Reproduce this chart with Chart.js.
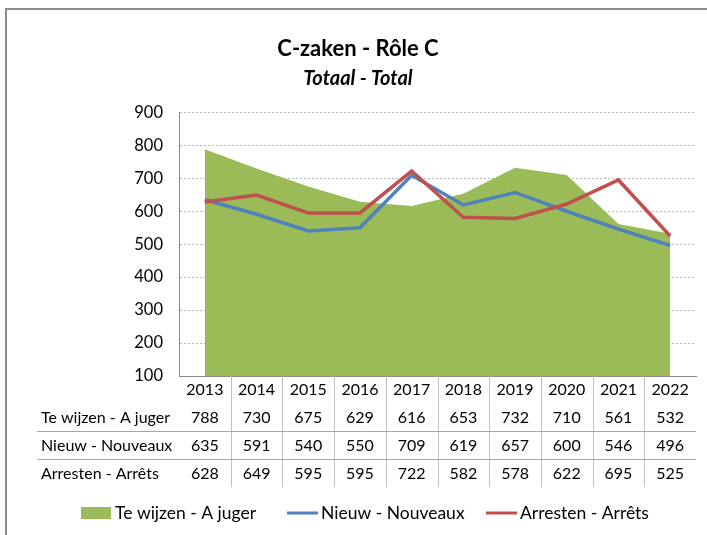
<!DOCTYPE html>
<html>
<head>
<meta charset="utf-8">
<script src="https://cdn.jsdelivr.net/npm/chart.js@4"></script>
<style>
  html, body { margin: 0; padding: 0; background: #fff; overflow: hidden; }
  #frame { position: absolute; left: 5px; top: 8px; width: 760px; height: 600px; border: 2px solid #8c8c8c; }
  #wrap { position: absolute; left: 0; top: 0; width: 707px; height: 535px; }
</style>
</head>
<body>
<div id="frame"></div>
<div id="wrap"><canvas id="czaken" width="707" height="535"></canvas></div>
<script>
// Data
const years = ['2013', '2014', '2015', '2016', '2017', '2018', '2019', '2020', '2021', '2022'];
const teWijzen = [788, 730, 675, 629, 616, 653, 732, 710, 561, 532];
const nieuw = [635, 591, 540, 550, 709, 619, 657, 600, 546, 496];
const arresten = [628, 649, 595, 595, 722, 582, 578, 622, 695, 525];
const yTicks = [100, 200, 300, 400, 500, 600, 700, 800, 900];

const FONT = 'Lato, "Open Sans", sans-serif';

// data table + legend under the plot
const tablePlugin = {
    id: 'dataTable',
    afterDraw(chart) {
        const ctx = chart.ctx;
        const x = chart.scales.x;
        const area = chart.chartArea;
        const ds = chart.data.datasets;
        const colW = (area.right - area.left) / years.length;
        const top = area.bottom;
        const rowY = [390, 418, 446, 474];
        const lineY = [431, 459];
        const bottom = 487;

        ctx.save();
        // vertical separators
        ctx.strokeStyle = '#c0c0c0';
        ctx.lineWidth = 1;
        for (let i = 1; i < years.length; i++) {
            const bx = Math.round(x.getPixelForValue(i) - colW / 2) + 0.5;
            ctx.beginPath();
            ctx.moveTo(bx, top);
            ctx.lineTo(bx, bottom);
            ctx.stroke();
        }
        // horizontal separators
        ctx.strokeStyle = '#a6a6a6';
        lineY.forEach(ly => {
            ctx.beginPath();
            ctx.moveTo(37, ly + 0.5);
            ctx.lineTo(area.right, ly + 0.5);
            ctx.stroke();
        });

        ctx.fillStyle = '#000';
        ctx.textBaseline = 'middle';
        ctx.font = '16px ' + FONT;
        ctx.textAlign = 'center';
        years.forEach((yr, i) => ctx.fillText(yr, x.getPixelForValue(i), rowY[0]));
        ds.forEach((d, r) => {
            ctx.textAlign = 'left';
            ctx.fillText(d.label, 41, rowY[r + 1]);
            ctx.textAlign = 'center';
            d.data.forEach((v, i) => ctx.fillText(String(v), x.getPixelForValue(i), rowY[r + 1]));
        });

        // legend
        const legX = [81, 287, 486];
        const ly = 513;
        ctx.font = '17.5px ' + FONT;
        ctx.textAlign = 'left';
        ds.forEach((d, i) => {
            const lx = legX[i];
            if (d.fill) {
                ctx.fillStyle = d.backgroundColor;
                ctx.fillRect(lx, ly - 6, 30, 12);
            } else {
                ctx.strokeStyle = d.borderColor;
                ctx.lineWidth = 3;
                ctx.beginPath();
                ctx.moveTo(lx, ly);
                ctx.lineTo(lx + 31, ly);
                ctx.stroke();
            }
            ctx.fillStyle = '#000';
            ctx.fillText(d.label, lx + 34, ly);
        });
        ctx.restore();
    }
};

let ctx = document.getElementById('czaken').getContext('2d');
let czakenChart = new Chart(ctx, {
    type: 'line',
    data: {
        labels: years,
        datasets: [{
            label: 'Te wijzen - A juger',
            data: teWijzen,
            fill: 'start',
            backgroundColor: '#9bbb59',
            borderColor: '#9bbb59',
            borderWidth: 0,
            pointRadius: 0,
            tension: 0,
            order: 3
        }, {
            label: 'Nieuw - Nouveaux',
            data: nieuw,
            fill: false,
            borderColor: '#4f81bd',
            borderWidth: 3.5,
            pointRadius: 0,
            tension: 0,
            order: 2
        }, {
            label: 'Arresten - Arrêts',
            data: arresten,
            fill: false,
            borderColor: '#c0504d',
            borderWidth: 3.5,
            pointRadius: 0,
            tension: 0,
            order: 1
        }]
    },
    options: {
        responsive: false,
        animation: false,
        events: [],
        layout: { padding: { left: 20, right: 11, top: 0, bottom: 151 } },
        plugins: {
            legend: { display: false },
            tooltip: { enabled: false },
            title: {
                display: true,
                text: 'C-zaken - Rôle C',
                color: '#000',
                font: { family: FONT, size: 22, weight: 'bold' },
                padding: { top: 36, bottom: 4 }
            },
            subtitle: {
                display: true,
                text: 'Totaal - Total',
                color: '#000',
                font: { family: FONT, size: 20, weight: 'bold', style: 'italic' },
                padding: { top: 0, bottom: 22 }
            }
        },
        scales: {
            x: {
                offset: true,
                grid: { display: false },
                ticks: { display: false },
                border: { display: true, color: '#8c8c8c', width: 1 }
            },
            y: {
                min: 100,
                max: 900,
                afterBuildTicks(scale) {
                    scale.ticks = yTicks.map(v => ({ value: v }));
                },
                afterFit(scale) { scale.width = 159; },
                grid: { color: '#b8b8b8', drawTicks: false },
                border: { display: true, color: '#8c8c8c', width: 1, dash: [2, 2] },
                ticks: {
                    color: '#000',
                    padding: 16,
                    font: { family: FONT, size: 16.5 }
                }
            }
        }
    },
    plugins: [tablePlugin]
});
</script>
</body>
</html>
